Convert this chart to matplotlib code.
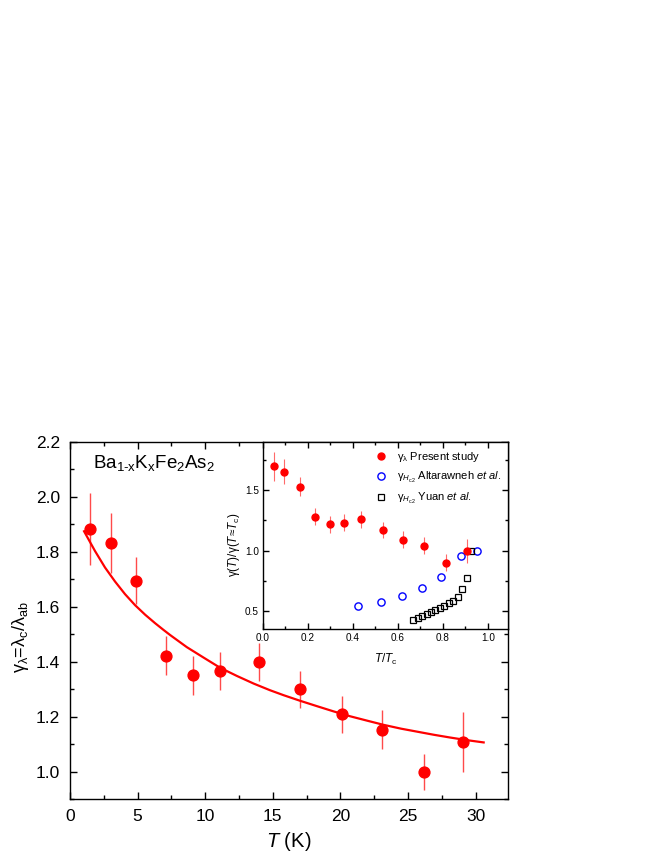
import matplotlib
matplotlib.use("Agg")
import matplotlib.pyplot as plt
from matplotlib.ticker import MultipleLocator

plt.rcParams['font.family'] = ['Liberation Sans', 'DejaVu Sans']
plt.rcParams['mathtext.fontset'] = 'custom'
plt.rcParams['mathtext.rm'] = 'Liberation Sans'
plt.rcParams['mathtext.it'] = 'Liberation Sans:italic'
plt.rcParams['mathtext.bf'] = 'Liberation Sans:bold'

# ---- main panel data ----
T_main = [1.5, 3.0, 4.9, 7.1, 9.1, 11.1, 14.0, 17.0, 20.1, 23.1, 26.2, 29.1]
gamma_main = [1.883, 1.832, 1.695, 1.422, 1.350, 1.367, 1.398, 1.300, 1.209, 1.153, 0.998, 1.108]
gamma_err = [0.13, 0.11, 0.085, 0.07, 0.07, 0.07, 0.07, 0.067, 0.067, 0.07, 0.067, 0.11]

# fit curve
T_fit = [1.04, 1.85, 2.59, 3.33, 4.07, 4.81, 5.56, 6.30, 6.91, 7.41, 8.64, 9.88, 11.1, 12.35,
         13.6, 14.8, 15.8, 17.0, 18.27, 19.5, 20.74, 22.0, 23.2, 24.5, 25.7, 26.9, 28.1, 29.4, 30.6]
gamma_fit = [1.875, 1.803, 1.743, 1.692, 1.646, 1.606, 1.571, 1.540, 1.516, 1.497, 1.453, 1.415,
             1.378, 1.348, 1.320, 1.296, 1.278, 1.258, 1.238, 1.219, 1.201, 1.185, 1.170, 1.156,
             1.145, 1.134, 1.124, 1.114, 1.106]

# ---- inset data ----
t_red = [0.049, 0.093, 0.163, 0.231, 0.298, 0.360, 0.437, 0.532, 0.624, 0.717, 0.813, 0.907]
v_red = [1.70, 1.655, 1.530, 1.282, 1.218, 1.232, 1.260, 1.171, 1.091, 1.039, 0.900, 1.000]
e_red = [0.12, 0.10, 0.08, 0.07, 0.07, 0.07, 0.07, 0.07, 0.07, 0.07, 0.07, 0.10]

t_blue = [0.422, 0.526, 0.616, 0.705, 0.793, 0.880, 0.953]
v_blue = [0.541, 0.572, 0.627, 0.693, 0.779, 0.956, 1.000]

t_sq = [0.668, 0.687, 0.708, 0.727, 0.747, 0.766, 0.785, 0.806, 0.827, 0.846, 0.865, 0.884, 0.907, 0.924]
v_sq = [0.426, 0.445, 0.459, 0.476, 0.492, 0.509, 0.525, 0.542, 0.564, 0.583, 0.619, 0.683, 0.776, 1.000]

W, H = 664, 860
fig = plt.figure(figsize=(W / 100, H / 100), dpi=100)

L, R, B, Tp = 70, 508, 799, 442
ax = fig.add_axes([L / W, 1 - B / H, (R - L) / W, (B - Tp) / H])

ax.errorbar(T_main, gamma_main, yerr=gamma_err, fmt='none', ecolor='#ff4a4a', elinewidth=1.0, capsize=0, zorder=2)
ax.plot(T_fit, gamma_fit, color='#ff0000', lw=1.6, zorder=3)
ax.plot(T_main, gamma_main, 'o', color='#ff0000', ms=7.8, mec='#ff0000', zorder=4)

ax.set_xlim(0, 32.4)
ax.set_ylim(0.9, 2.2)
ax.xaxis.set_major_locator(MultipleLocator(5))
ax.xaxis.set_minor_locator(MultipleLocator(2.5))
ax.yaxis.set_major_locator(MultipleLocator(0.2))
ax.yaxis.set_minor_locator(MultipleLocator(0.1))
ax.tick_params(which='both', direction='in', top=True, right=True, width=1.0, labelsize=12.5)
ax.tick_params(which='major', length=5, pad=7)
ax.tick_params(which='minor', length=3)
for s in ax.spines.values():
    s.set_linewidth(1.0)
ax.set_xlabel(r'$\it{T}$ (K)', fontsize=14.5)
ax.xaxis.set_label_coords(0.5, -0.088)
ax.set_ylabel(r'γ$_\mathrm{λ}$=λ$_\mathrm{c}$/λ$_\mathrm{ab}$', fontsize=13)
ax.yaxis.set_label_coords(-0.09, 0.454)
ax.text(0.053, 0.927, r'Ba$_\mathrm{1\text{-}x}$K$_\mathrm{x}$Fe$_\mathrm{2}$As$_\mathrm{2}$',
        transform=ax.transAxes, fontsize=13.5, va='baseline', ha='left')

# ---- inset ----
iL, iR, iB, iT = 263, 508, 629, 442
axi = fig.add_axes([iL / W, 1 - iB / H, (iR - iL) / W, (iB - iT) / H])
axi.errorbar(t_red, v_red, yerr=e_red, fmt='none', ecolor='#ff6a6a', elinewidth=0.8, capsize=0, zorder=2)
h1, = axi.plot(t_red, v_red, 'o', color='#ff0000', ms=5.0, zorder=4,
               label=r'$\mathrm{γ}_\mathrm{λ}$ Present study')
h2, = axi.plot(t_blue, v_blue, 'o', mfc='none', mec='#0000ff', mew=1.0, ms=5.2, zorder=3,
               label=r'$\mathrm{γ}_{H_\mathrm{c2}}$ Altarawneh $\it{et\ al.}$')
h3, = axi.plot(t_sq, v_sq, 's', mfc='none', mec='#000000', mew=0.9, ms=4.8, zorder=3,
               label=r'$\mathrm{γ}_{H_\mathrm{c2}}$ Yuan $\it{et\ al.}$')
axi.set_xlim(0, 1.089)
axi.set_ylim(0.35, 1.9)
axi.xaxis.set_major_locator(MultipleLocator(0.2))
axi.xaxis.set_minor_locator(MultipleLocator(0.1))
axi.yaxis.set_major_locator(MultipleLocator(0.5))
axi.yaxis.set_minor_locator(MultipleLocator(0.25))
axi.tick_params(which='both', direction='in', top=True, right=True, width=1.0, labelsize=7.2)
axi.tick_params(which='major', length=4, pad=3)
axi.tick_params(which='minor', length=2.5)
for s in axi.spines.values():
    s.set_linewidth(1.0)
axi.set_xlabel(r'$\it{T}$/$\it{T}_\mathrm{c}$', fontsize=8.5)
axi.xaxis.set_label_coords(0.5, -0.125)
axi.set_ylabel(r'γ($\it{T}$)/γ($\it{T}$≈$\it{T}_\mathrm{c}$)', fontsize=8.5)
axi.yaxis.set_label_coords(-0.085, 0.452)
axi.legend(handles=[h1, h2, h3], loc='upper left', bbox_to_anchor=(0.428, 1.0),
           frameon=False, fontsize=8, handlelength=1.0, handletextpad=0.9,
           labelspacing=0.55, borderaxespad=0.3)

fig.savefig('out.png', dpi=100)
